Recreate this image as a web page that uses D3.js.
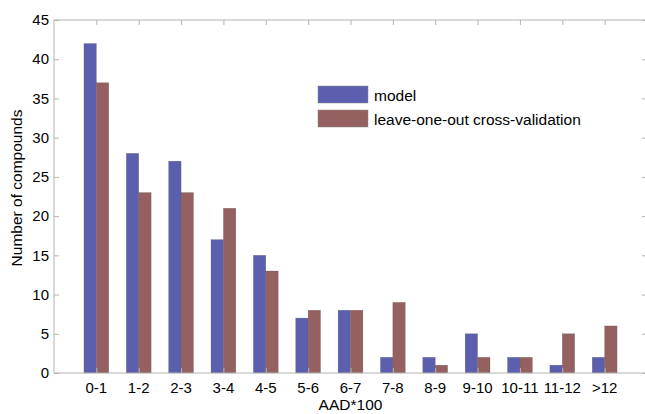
<!DOCTYPE html>
<html>
<head>
<meta charset="utf-8">
<script src="https://cdn.jsdelivr.net/npm/d3@7/dist/d3.min.js"></script>
<style>
  body { margin: 0; background: #fff; }
  svg { display: block; font-family: Arial, "Liberation Sans", sans-serif; }
</style>
</head>
<body>
<script>
// data
var categories = ["0-1","1-2","2-3","3-4","4-5","5-6","6-7","7-8","8-9","9-10","10-11","11-12",">12"];
var modelValues = [42, 28, 27, 17, 15, 7, 8, 2, 2, 5, 2, 1, 2];
var looValues   = [37, 23, 23, 21, 13, 8, 8, 9, 1, 2, 2, 5, 6];
var seriesNames = ["model", "leave-one-out cross-validation"];
var yTicks = [0, 5, 10, 15, 20, 25, 30, 35, 40, 45];

var width = 645, height = 414;
var margin = {top: 20, right: -2, bottom: 41, left: 54};
var colors = ["#5c5fae", "#956060"];
var barW = 12.4;

var svg = d3.select("body").append("svg")
    .attr("width", width)
    .attr("height", height);

// x: categories sit at 1..13 on a 0..14 axis
var x = d3.scaleLinear()
    .domain([0, categories.length + 1])
    .range([margin.left, width - margin.right]);

var y = d3.scaleLinear()
    .domain([0, 45])
    .range([height - margin.bottom, margin.top]);

var series = [modelValues, looValues];

series.forEach(function(vals, s) {
  svg.append("g").selectAll("rect")
    .data(vals)
    .enter()
    .append("rect")
    .attr("x", function(d, i) { return x(i + 1) + (s === 0 ? -barW : 0); })
    .attr("y", function(d) { return y(d); })
    .attr("width", barW)
    .attr("height", function(d) { return y(0) - y(d); })
    .attr("fill", colors[s])
    .attr("stroke", "#555")
    .attr("stroke-width", 0.4)
    .attr("stroke-opacity", 0.6);
});

// box
var x0 = x.range()[0], x1 = x.range()[1], y0 = y(0), y1 = y(45);
svg.append("rect")
    .attr("x", x0).attr("y", y1)
    .attr("width", x1 - x0).attr("height", y0 - y1)
    .attr("fill", "none")
    .attr("stroke", "#b4b4b4")
    .attr("stroke-width", 1);

// inward ticks on all four sides
var yAxisL = d3.axisRight(y).tickValues(yTicks).tickSize(5).tickFormat("");
var gl = svg.append("g").attr("transform", "translate(" + x0 + ",0)").call(yAxisL);
var yAxisR = d3.axisLeft(y).tickValues(yTicks).tickSize(5).tickFormat("");
var gr = svg.append("g").attr("transform", "translate(" + x1 + ",0)").call(yAxisR);
var idx = d3.range(1, categories.length + 1);
var xAxisB = d3.axisTop(x).tickValues(idx).tickSize(5).tickFormat("");
var gb = svg.append("g").attr("transform", "translate(0," + y0 + ")").call(xAxisB);
var xAxisT = d3.axisBottom(x).tickValues(idx).tickSize(5).tickFormat("");
var gt = svg.append("g").attr("transform", "translate(0," + y1 + ")").call(xAxisT);
[gl, gr, gb, gt].forEach(function(g) {
  g.select(".domain").remove();
  g.selectAll("line").attr("stroke", "#b4b4b4");
});

// tick labels
svg.append("g").selectAll("text")
    .data(yTicks)
    .enter()
    .append("text")
    .attr("x", x0 - 5)
    .attr("y", function(d) { return y(d); })
    .attr("dy", "0.35em")
    .attr("text-anchor", "end")
    .attr("font-size", 15)
    .text(function(d) { return d; });

svg.append("g").selectAll("text")
    .data(categories)
    .enter()
    .append("text")
    .attr("x", function(d, i) { return x(i + 1); })
    .attr("y", y0 + 20)
    .attr("text-anchor", "middle")
    .attr("font-size", 15)
    .text(function(d) { return d; });

svg.append("text")
    .attr("x", (x0 + x1) / 2)
    .attr("y", 410)
    .attr("text-anchor", "middle")
    .attr("font-size", 15.5)
    .text("AAD*100");

svg.append("text")
    .attr("transform", "translate(22,188) rotate(-90)")
    .attr("text-anchor", "middle")
    .attr("font-size", 15.5)
    .text("Number of compounds");

// legend
var legend = svg.append("g").attr("transform", "translate(318,86)");
seriesNames.forEach(function(name, i) {
  legend.append("rect")
    .attr("x", 0).attr("y", i * 24)
    .attr("width", 50).attr("height", 17)
    .attr("fill", colors[i])
    .attr("stroke", "#888")
    .attr("stroke-width", 0.5);
  legend.append("text")
    .attr("x", 56).attr("y", i * 24 + 14.5)
    .attr("font-size", 15.5)
    .text(name);
});
</script>
</body>
</html>
